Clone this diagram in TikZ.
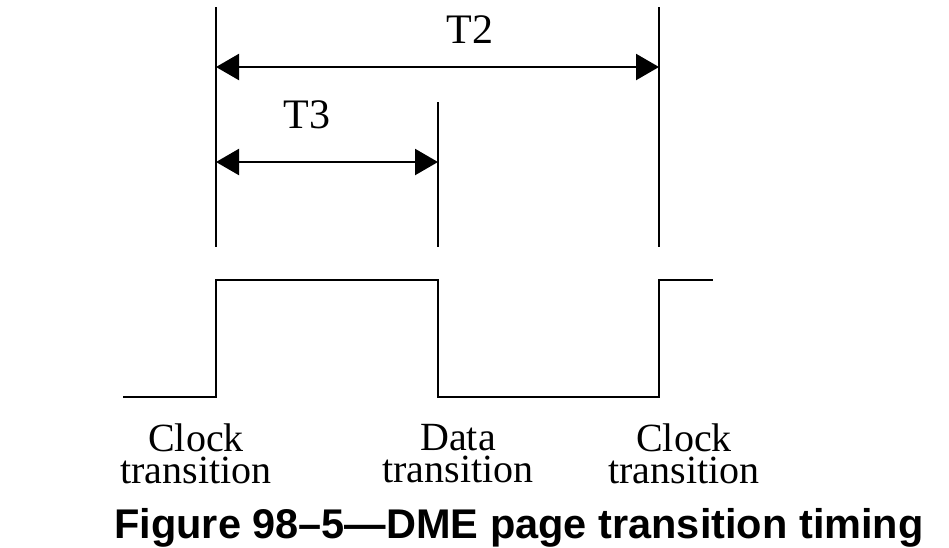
\documentclass[tikz,border=0pt]{standalone}
\usepackage{fontspec}
\setmainfont{Liberation Serif}
\newfontfamily\capfont{Liberation Sans}
\usetikzlibrary{arrows.meta}

\tikzset{
    dimarrow/.style={line width=2.2pt, {Triangle[length=23pt,width=26pt]}-{Triangle[length=23pt,width=26pt]}},
    tlabel/.style={anchor=base, inner sep=0pt, font=\fontsize{42}{42}\selectfont},
    edgelabel/.style={anchor=north, inner sep=0pt, align=center, font=\fontsize{40}{32}\selectfont},
}

\begin{document}
\begin{tikzpicture}[x=1pt, y=-1pt, line width=2.2pt]
    \useasboundingbox (0,0) rectangle (949,547);

    % transition marks
    \coordinate (clkA) at (216,7);
    \coordinate (clkAbot) at (216,247);
    \coordinate (dat) at (438,102);
    \coordinate (datbot) at (438,247);
    \coordinate (clkB) at (659,7);
    \coordinate (clkBbot) at (659,247);
    \draw (clkA) -- (clkAbot);
    \draw (dat) -- (datbot);
    \draw (clkB) -- (clkBbot);

    % intervals
    \coordinate (t2l) at (216,67);
    \coordinate (t2r) at (659,67);
    \coordinate (t3l) at (216,162);
    \coordinate (t3r) at (438,162);
    \draw[dimarrow] (t2l) -- (t2r);
    \draw[dimarrow] (t3l) -- (t3r);
    \node[tlabel] (T2) at (470,43) {T2};
    \node[tlabel] (T3) at (307,128) {T3};

    % signal
    \draw (123,397) -- (216,397) -- (216,280) -- (438,280) -- (438,397)
        -- (659,397) -- (659,280) -- (713,280);

    \node[edgelabel] (lblA) at (196,423) {Clock\\transition};
    \node[edgelabel] (lblD) at (458,423) {Data\\transition};
    \node[edgelabel] (lblB) at (684,423) {Clock\\transition};

    \node[anchor=base, inner sep=0pt, font=\capfont\bfseries\fontsize{41.5}{41.5}\selectfont] (caption) at (519,538)
        {Figure 98–5—DME page transition timing};
\end{tikzpicture}
\end{document}
